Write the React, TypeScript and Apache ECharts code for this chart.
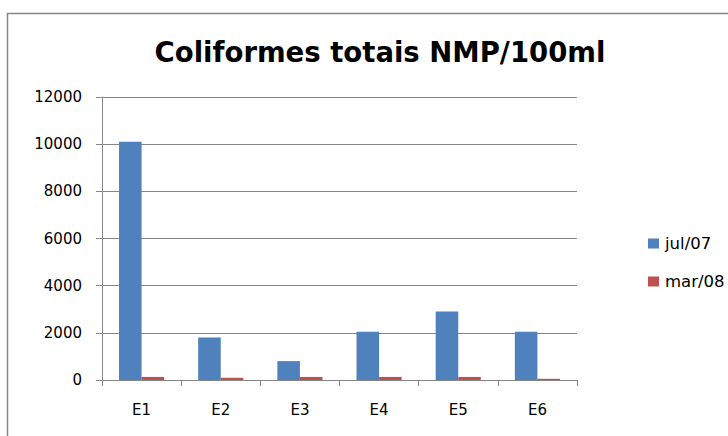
import React, { useEffect, useRef } from "react";
import * as echarts from "echarts";

const categories = ["E1", "E2", "E3", "E4", "E5", "E6"];
const jul07 = [10100, 1800, 800, 2050, 2900, 2050];
const mar08 = [130, 95, 130, 130, 130, 50];
const seriesNames = ["jul/07", "mar/08"];
const yTicks = { min: 0, max: 12000, interval: 2000 };

export default function App() {
  const ref = useRef<HTMLDivElement>(null);
  useEffect(() => {
    if (!ref.current) return;
    const chart = echarts.init(ref.current, null, { renderer: "svg" });
    const font = "DejaVu Sans";
    chart.setOption({
      animation: false,
      backgroundColor: "#ffffff",
      title: {
        text: "Coliformes totais NMP/100ml",
        left: 375,
        textAlign: "center",
        top: 33,
        textStyle: { fontFamily: font, fontWeight: "bold", fontSize: 27.5, color: "#000" },
      },
      graphic: [
        {
          type: "rect",
          shape: { x: 7.5, y: 13.5, width: 760, height: 460 },
          style: { fill: "none", stroke: "#868686", lineWidth: 1.5 },
          silent: true,
        },
      ],
      legend: {
        orient: "vertical",
        left: 643,
        top: 230,
        itemWidth: 11,
        itemHeight: 10,
        itemGap: 21,
        icon: "rect",
        textStyle: { fontFamily: font, fontSize: 16.5, color: "#000", padding: [0, 0, 0, 1] },
        data: seriesNames,
      },
      grid: { left: 102, right: 151, top: 97, bottom: 56 },
      xAxis: {
        type: "category",
        data: categories,
        axisLine: { lineStyle: { color: "#868686", width: 1 } },
        axisTick: { show: true, length: 6, lineStyle: { color: "#868686" } },
        axisLabel: { fontFamily: font, fontSize: 15, color: "#000", margin: 22 },
      },
      yAxis: {
        type: "value",
        min: yTicks.min,
        max: yTicks.max,
        interval: yTicks.interval,
        axisLine: { show: true, lineStyle: { color: "#868686", width: 1 } },
        axisTick: { show: true, length: 6, lineStyle: { color: "#868686" } },
        axisLabel: {
          fontFamily: font,
          fontSize: 15,
          color: "#000",
          margin: 20,
          formatter: (v: number) => String(v),
        },
        splitLine: { lineStyle: { color: "#868686", width: 1 } },
      },
      series: [
        {
          name: seriesNames[0],
          type: "bar",
          data: jul07,
          itemStyle: { color: "#4F81BD" },
          barGap: "0%",
          barCategoryGap: "43%",
        },
        {
          name: seriesNames[1],
          type: "bar",
          data: mar08,
          itemStyle: { color: "#C0504D" },
          barGap: "0%",
          barCategoryGap: "43%",
        },
      ],
    });
    return () => chart.dispose();
  }, []);
  return (
    <div
      ref={ref}
      style={{ position: "fixed", left: 0, top: 0, width: 728, height: 436 }}
    />
  );
}
